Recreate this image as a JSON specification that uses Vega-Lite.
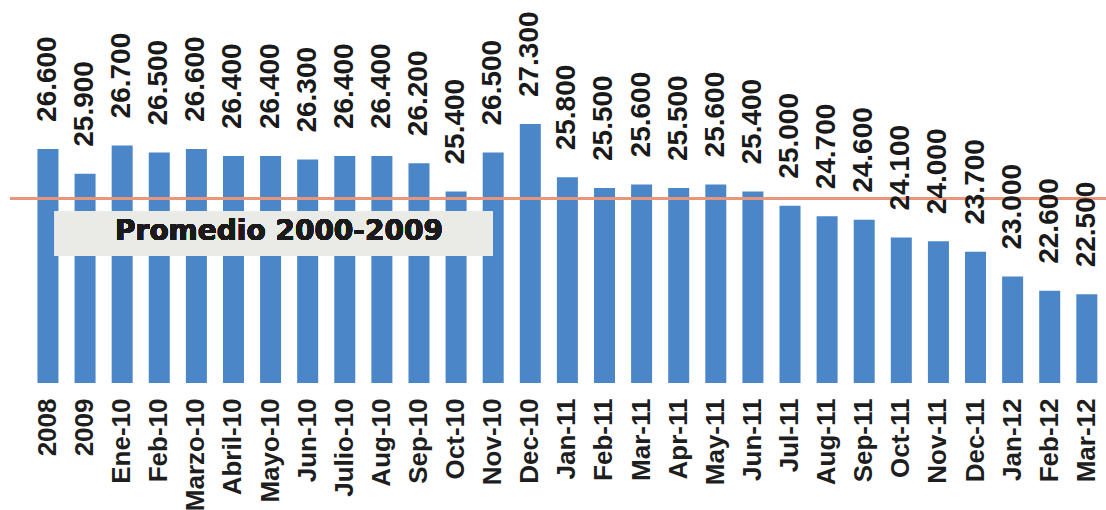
{
  "$schema": "https://vega.github.io/schema/vega-lite/v6.json",
  "width": 1096,
  "height": 383,
  "autosize": {"type": "none"},
  "padding": {"left": 10, "top": 0, "right": 0, "bottom": 127},
  "background": "white",
  "config": {"view": {"stroke": null}},
  "data": {
    "values": [
      {"period": "2008", "value": 26.6},
      {"period": "2009", "value": 25.9},
      {"period": "Ene-10", "value": 26.7},
      {"period": "Feb-10", "value": 26.5},
      {"period": "Marzo-10", "value": 26.6},
      {"period": "Abril-10", "value": 26.4},
      {"period": "Mayo-10", "value": 26.4},
      {"period": "Jun-10", "value": 26.3},
      {"period": "Julio-10", "value": 26.4},
      {"period": "Aug-10", "value": 26.4},
      {"period": "Sep-10", "value": 26.2},
      {"period": "Oct-10", "value": 25.4},
      {"period": "Nov-10", "value": 26.5},
      {"period": "Dec-10", "value": 27.3},
      {"period": "Jan-11", "value": 25.8},
      {"period": "Feb-11", "value": 25.5},
      {"period": "Mar-11", "value": 25.6},
      {"period": "Apr-11", "value": 25.5},
      {"period": "May-11", "value": 25.6},
      {"period": "Jun-11", "value": 25.4},
      {"period": "Jul-11", "value": 25.0},
      {"period": "Aug-11", "value": 24.7},
      {"period": "Sep-11", "value": 24.6},
      {"period": "Oct-11", "value": 24.1},
      {"period": "Nov-11", "value": 24.0},
      {"period": "Dec-11", "value": 23.7},
      {"period": "Jan-12", "value": 23.0},
      {"period": "Feb-12", "value": 22.6},
      {"period": "Mar-12", "value": 22.5}
    ]
  },
  "encoding": {
    "x": {
      "field": "period",
      "type": "nominal",
      "sort": null,
      "scale": {"paddingInner": 0.434, "paddingOuter": 0.487, "align": 0.76},
      "axis": {
        "title": null,
        "labelAngle": 270,
        "labelAlign": "right",
        "labelBaseline": "middle",
        "labelPadding": 15,
        "ticks": false,
        "domain": false,
        "labelOverlap": false,
        "labelLimit": 0,
        "labelFont": "Liberation Sans",
        "labelFontWeight": "bold",
        "labelFontSize": 26,
        "labelColor": "#1e1e1e"
      }
    }
  },
  "layer": [
    {
      "mark": {"type": "bar", "color": "#4a86c8"},
      "encoding": {
        "y": {
          "field": "value",
          "type": "quantitative",
          "scale": {"domain": [20, 30.8], "zero": false, "nice": false},
          "axis": null
        },
        "y2": {"datum": 20}
      }
    },
    {
      "mark": {"type": "rule", "color": "#e9957a", "strokeWidth": 2},
      "encoding": {"x": null, "y": {"datum": 25.2, "type": "quantitative"}}
    },
    {
      "mark": {"type": "rect", "fill": "#e9e9e6", "opacity": 0.92},
      "encoding": {
        "x": {"datum": "2008", "type": "nominal", "bandPosition": 0.83},
        "x2": {"datum": "Nov-10", "bandPosition": 0.49},
        "y": {"datum": 24.85, "type": "quantitative"},
        "y2": {"datum": 23.58}
      }
    },
    {
      "mark": {
        "type": "text",
        "text": "Promedio 2000-2009",
        "font": "DejaVu Sans",
        "fontWeight": "bold",
        "fontSize": 28,
        "color": "#1a1a1a",
        "align": "center",
        "baseline": "middle"
      },
      "encoding": {
        "x": {"datum": "Mayo-10", "type": "nominal", "bandPosition": 0.9},
        "y": {"datum": 24.25, "type": "quantitative"}
      }
    },
    {
      "mark": {
        "type": "text",
        "angle": 270,
        "align": "left",
        "baseline": "middle",
        "dx": 27,
        "font": "Liberation Sans",
        "fontWeight": "bold",
        "fontSize": 28,
        "color": "#1a1a1a"
      },
      "encoding": {
        "y": {"field": "value", "type": "quantitative"},
        "text": {"field": "value", "type": "quantitative", "format": ".3f"}
      }
    }
  ]
}
